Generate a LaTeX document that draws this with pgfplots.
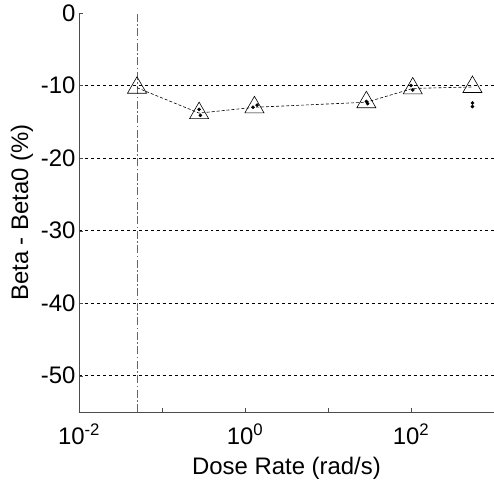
\documentclass[border=0pt]{standalone}
\usepackage{pgfplots}
\pgfplotsset{compat=1.18}
\usepackage{fontspec}
\setmainfont{Liberation Sans}

\begin{document}
\begin{tikzpicture}
\begin{axis}[
    scale only axis,
    width=415bp, height=399bp,
    xmode=log,
    xmin=0.01, xmax=1000,
    ymin=-55, ymax=0,
    axis x line*=bottom,
    axis y line*=left,
    xtick={0.01,0.1,1,10,100,1000},
    xticklabels={10\textsuperscript{-2},,10\textsuperscript{0},,10\textsuperscript{2},},
    xminorticks=false,
    ytick={-10,-20,-30,-40,-50},
    yticklabels={-10,-20,-30,-40,-50},
    extra y ticks={0},
    extra y tick labels={0},
    extra y tick style={grid=none},
    tick align=inside,
    major tick length=4bp,
    ymajorgrids,
    grid style={black, dashed, line width=0.6pt},
    axis line style={black!70, line width=0.8pt},
    tick style={black!70},
    ticklabel style={font=\fontsize{24}{28}\selectfont},
    xticklabel style={yshift=-8bp},
    label style={font=\fontsize{24}{28}\selectfont},
    xlabel={Dose Rate (rad/s)},
    ylabel={Beta - Beta0 (\%)},
    xlabel style={yshift=-6bp},
    ylabel style={yshift=1bp},
    clip=false,
]

% reference dose-rate line
\addplot[black!60, dash pattern=on 8pt off 2.5pt on 1.5pt off 2.5pt, line width=0.9pt]
    coordinates {(0.05,-55)(0.05,0)};

% mean values
\addplot[black, densely dashed, line width=0.6pt, mark=triangle,
    mark size=11bp, mark options={solid, line width=0.6pt, fill=white}]
    coordinates {
    (0.05,-10.3)(0.28,-13.8)(1.3,-13.0)(29,-12.3)(105,-10.4)(550,-10.2)
    };

% individual samples
\addplot[only marks, black, mark=*, mark size=1.6bp]
    coordinates {
    (0.28,-13.3)(0.29,-14.1)
    (1.25,-13.0)(1.4,-12.7)
    (29,-12.2)(30,-12.5)
    (100,-10.0)(105,-10.6)
    (550,-12.4)(550,-12.9)
    };

\end{axis}
% page frame as in the reference: 79bp left, 13bp top, 75bp bottom
\pgfresetboundingbox
\path (current axis.south west) ++(-79bp,-75bp) coordinate (bl);
\path (current axis.north east) ++(0,13bp) coordinate (tr);
\useasboundingbox (bl) rectangle (tr);
\end{tikzpicture}
\end{document}
